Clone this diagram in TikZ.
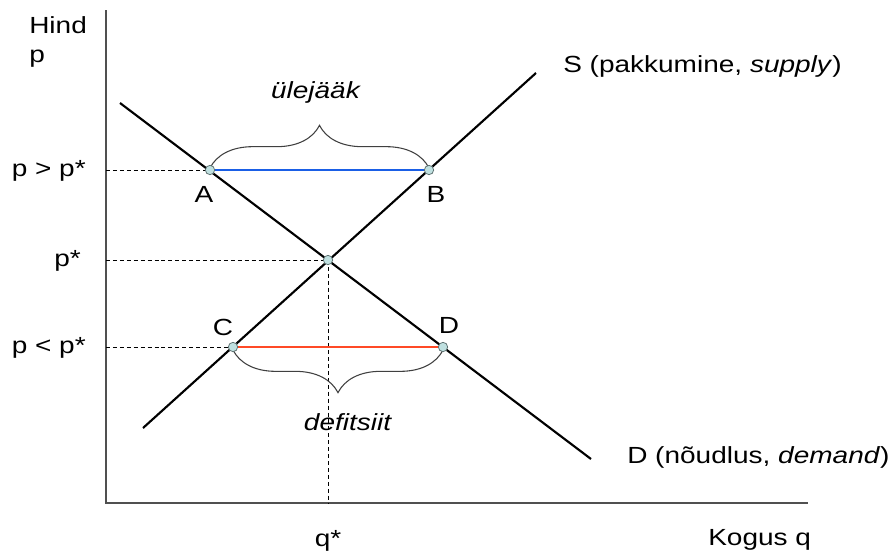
\documentclass[tikz,border=0pt]{standalone}
\usepackage{fontspec}
\setmainfont{Liberation Sans}[FakeStretch=1.2]
\usetikzlibrary{decorations.pathreplacing}
\definecolor{axisgray}{HTML}{505050}
\definecolor{bracegray}{HTML}{404040}
\definecolor{ptfill}{HTML}{BFE0E0}
\definecolor{ptdraw}{HTML}{5F7373}
\definecolor{surplusblue}{HTML}{1A5FE6}
\definecolor{shortred}{HTML}{FF4A26}
\begin{document}
\begin{tikzpicture}[x=0.75pt,y=-0.75pt,
  every node/.style={font=\fontsize{17.5}{21}\selectfont, inner sep=0pt},
  lbl/.style={anchor=base west},
  lblr/.style={anchor=base east},
  lblc/.style={anchor=base},
  axisline/.style={draw=axisgray, line width=1.5pt},
  curve/.style={draw=black, line width=1.6pt},
  guide/.style={draw=black, line width=0.75pt, dash pattern=on 3pt off 2.2pt},
  pt/.style={circle, fill=ptfill, draw=ptdraw, line width=0.6pt, minimum size=7pt, inner sep=0pt},
  bracestyle/.style={draw=bracegray, line width=0.8pt, decorate, decoration={brace, amplitude=32pt}},
  seg/.style={line width=2.2pt}]
\useasboundingbox (0,0) rectangle (894,551);

% axes
\coordinate (top) at (106,10);
\coordinate (origin) at (106,503);
\coordinate (right) at (808,503);
\draw[axisline] (top) -- (origin) -- (right);

% supply and demand lines
\coordinate (S0) at (143,428);
\coordinate (S1) at (536,73);
\coordinate (D0) at (120,103);
\coordinate (D1) at (591,459);

% guide coordinates
\coordinate (yA) at (106,170);
\coordinate (yE) at (106,260);
\coordinate (yC) at (106,347);
\coordinate (xE) at (328,503);

% dashed guides
\draw[guide] (yA) -- (210,170);
\draw[guide] (yE) -- (328,260);
\draw[guide] (yC) -- (233,347);
\draw[guide] (328,260) -- (xE);

\draw[curve] (S0) -- (S1);
\draw[curve] (D0) -- (D1);

% segments
\draw[surplusblue, seg] (210,170) -- (429,170);
\draw[shortred, seg] (233,347) -- (443,347);

% braces
\draw[bracestyle] (210,168) -- (429,168);
\draw[bracestyle] (443,350) -- (233,350);

% points
\node[pt] (A) at (210,170) {};
\node[pt] (B) at (429,170) {};
\node[pt] (E) at (328,260) {};
\node[pt] (C) at (233,347) {};
\node[pt] (D) at (443,347) {};

% labels
\node[lblc] (lA) at (204,202) {A};
\node[lblc] (lB) at (436,202) {B};
\node[lblc] (lC) at (223,335) {C};
\node[lblc] (lD) at (449,333) {D};

\node[lbl] (hind) at (29,33) {Hind};
\node[lbl] (pax) at (29,62) {p};
\node[lblr] (pgt) at (86,176) {p > p*};
\node[lblr] (pst) at (81,266) {p*};
\node[lblr] (plt) at (86,353) {p < p*};
\node[lblc] (qst) at (328,546) {q*};
\node[lbl] (kogus) at (708,545) {Kogus q};
\node[lbl] (slab) at (563,72) {S (pakkumine, \textit{supply})};
\node[lbl] (dlab) at (627,463) {D (nõudlus, \textit{demand})};
\node[lblc] (sur) at (316,98) {\textit{ülejääk}};
\node[lblc] (def) at (348,430) {\textit{defitsiit}};
\end{tikzpicture}
\end{document}
